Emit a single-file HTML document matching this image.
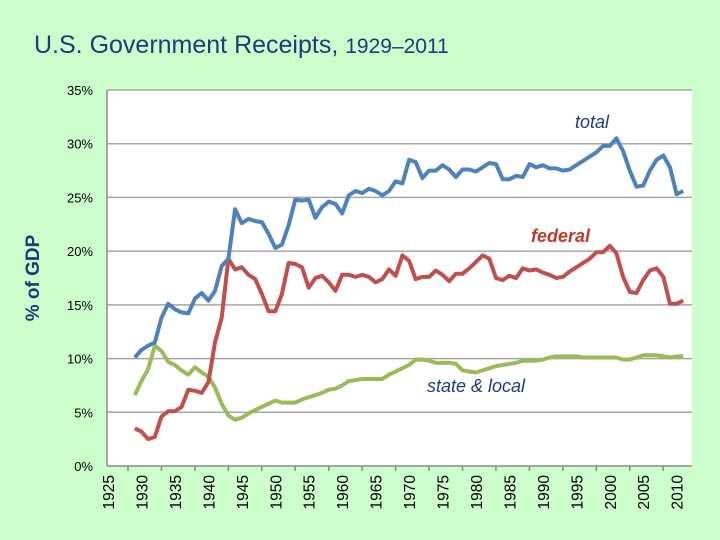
<!DOCTYPE html>
<html><head><meta charset="utf-8"><style>
html,body{margin:0;padding:0;background:#ccffcc;}
svg{display:block;font-family:"Liberation Sans",Arial,sans-serif;}
</style></head><body>
<svg id="c" width="720" height="540">
<rect x="0" y="0" width="720" height="540" fill="#ccffcc"/>
<text x="34" y="53" font-size="25" fill="#1f3b7a">U.S. Government Receipts, <tspan font-size="21">1929–2011</tspan></text>
<rect x="107" y="90" width="585" height="376" fill="#fff"/>
<g id="grid"></g><g id="axes"></g><g id="series"></g>
<text transform="translate(39,278) rotate(-90)" text-anchor="middle" font-size="19" font-weight="bold" fill="#1f3b7a">% of GDP</text>
<text x="575" y="128" font-size="18" font-style="italic" fill="#1f3b7a">total</text>
<text x="531" y="242" font-size="18" font-style="italic" font-weight="bold" fill="#c0392b">federal</text>
<text x="427" y="392" font-size="18" font-style="italic" fill="#1f3b7a">state &amp; local</text>
</svg>
<script>
const years=[];for(let y=1929;y<=2011;y++)years.push(y);
const total=[10.1,10.8,11.2,11.5,13.8,15.1,14.6,14.3,14.2,15.6,16.1,15.4,16.3,18.6,19.3,23.9,22.6,23.0,22.8,22.7,21.6,20.3,20.6,22.4,24.8,24.7,24.8,23.1,24.1,24.6,24.4,23.5,25.2,25.6,25.4,25.8,25.6,25.2,25.6,26.5,26.3,28.5,28.3,26.8,27.5,27.5,28.0,27.6,26.9,27.6,27.6,27.4,27.8,28.2,28.1,26.7,26.7,27.0,26.9,28.1,27.8,28.0,27.7,27.7,27.5,27.6,28.0,28.4,28.8,29.2,29.8,29.8,30.5,29.3,27.5,26.0,26.1,27.5,28.5,28.9,27.8,25.3,25.6];
const federal=[3.5,3.2,2.5,2.7,4.6,5.1,5.1,5.5,7.1,7.0,6.8,7.8,11.5,13.8,19.3,18.3,18.5,17.8,17.4,16.0,14.4,14.4,16.0,18.9,18.8,18.5,16.6,17.5,17.7,17.1,16.3,17.8,17.8,17.6,17.8,17.6,17.1,17.4,18.3,17.7,19.6,19.1,17.4,17.6,17.6,18.2,17.8,17.2,17.9,17.9,18.4,19.0,19.6,19.3,17.5,17.3,17.7,17.5,18.4,18.2,18.3,18.0,17.8,17.5,17.6,18.1,18.5,18.9,19.3,19.9,19.9,20.5,19.8,17.6,16.2,16.1,17.3,18.2,18.4,17.6,15.1,15.1,15.4];
const stateLocal=[6.6,7.9,9.0,11.2,10.7,9.7,9.4,8.9,8.5,9.2,8.7,8.3,7.3,5.8,4.7,4.3,4.5,4.9,5.2,5.5,5.8,6.1,5.9,5.9,5.9,6.2,6.4,6.6,6.8,7.1,7.2,7.5,7.9,8.0,8.1,8.1,8.1,8.1,8.5,8.8,9.1,9.4,9.9,9.9,9.8,9.6,9.6,9.6,9.5,8.9,8.8,8.7,8.9,9.1,9.3,9.4,9.5,9.6,9.8,9.8,9.8,9.9,10.1,10.2,10.2,10.2,10.2,10.1,10.1,10.1,10.1,10.1,10.1,9.9,9.9,10.1,10.3,10.3,10.3,10.2,10.1,10.2,10.2];
const yTicks=[0,5,10,15,20,25,30,35];
const xTicks=[1925,1930,1935,1940,1945,1950,1955,1960,1965,1970,1975,1980,1985,1990,1995,2000,2005,2010];
const NS="http://www.w3.org/2000/svg";
function X(yr){return 108+(yr-1925)*6.69;}
function Y(v){return 466-v*10.743;}
function mk(t,a,p){const e=document.createElementNS(NS,t);for(const k in a)e.setAttribute(k,a[k]);p.appendChild(e);return e;}
const grid=document.getElementById('grid'),axes=document.getElementById('axes'),ser=document.getElementById('series');
yTicks.forEach(v=>{
  if(v>0){const l=mk('line',{x1:107,x2:692,y1:Y(v),y2:Y(v),stroke:'#a6a6a6','stroke-width':1.5},grid);
  
  }
  const t=mk('text',{x:93,y:Y(v)+5,'text-anchor':'end','font-size':13,fill:'#000'},axes);
  t.textContent=v+'%';
  
  
});
const ax=mk('line',{x1:107,x2:692,y1:466,y2:466,stroke:'#8c8c8c','stroke-width':1.5},axes);


const ay=mk('line',{x1:107,x2:107,y1:90,y2:466,stroke:'#8c8c8c','stroke-width':1.5},axes);


xTicks.forEach(yr=>{
  const tx=X(yr)+20;
  if(tx<692){const tk=mk('line',{x1:tx,x2:tx,y1:466,y2:471,stroke:'#8c8c8c','stroke-width':1.5},axes);
  
  }
  const t=mk('text',{transform:'translate('+(X(yr)+6)+',475) rotate(-90)','text-anchor':'end','font-size':15.5,fill:'#000'},axes);
  t.textContent=yr;
  
  
});
function line(vals,color,name){
  const d=vals.map((v,i)=>(i?'L':'M')+X(years[i]).toFixed(1)+' '+Y(v).toFixed(1)).join(' ');
  const p=mk('path',{d:d,fill:'none',stroke:color,'stroke-width':4,'stroke-linejoin':'round'},ser);
  
  
}
line(stateLocal,'#9bbb59','series-state-local');
line(federal,'#c0504d','series-federal');
line(total,'#4f81bd','series-total');
</script>
</body></html>
